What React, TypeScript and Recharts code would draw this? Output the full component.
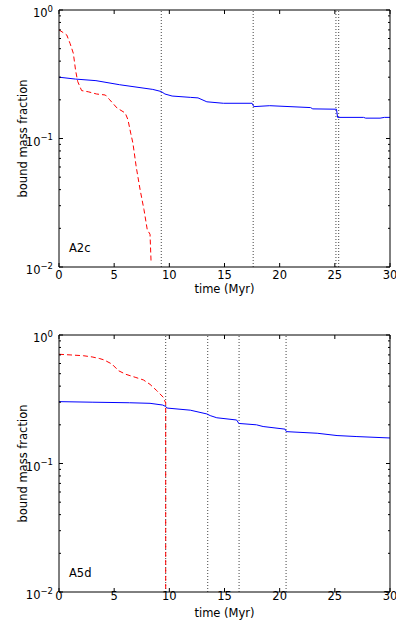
import { Line, LineChart, ReferenceLine, XAxis, YAxis } from 'recharts';

// panel A2c
const a2cBlueT = [0, 1.5, 3.35, 5.5, 8.5, 9.27, 9.6, 10.25, 11.9, 12.6, 13.4, 14.9, 17.5, 17.65, 19.1, 22.8, 23.0, 25.15, 25.25, 27.6, 27.8, 29.1, 29.5, 30];
const a2cBlueV = [0.3, 0.29, 0.282, 0.262, 0.241, 0.232, 0.222, 0.214, 0.209, 0.207, 0.193, 0.188, 0.188, 0.177, 0.18, 0.174, 0.17, 0.169, 0.146, 0.146, 0.144, 0.144, 0.146, 0.146];
const a2cRedT = [0, 0.7, 1.0, 1.3, 1.5, 1.7, 2.05, 2.65, 3.4, 4.2, 4.6, 5.25, 6.0, 6.25, 6.5, 6.7, 7.0, 7.35, 7.7, 8.0, 8.25, 8.35];
const a2cRedV = [0.7, 0.64, 0.55, 0.46, 0.34, 0.277, 0.236, 0.231, 0.222, 0.218, 0.2, 0.173, 0.158, 0.14, 0.11, 0.092, 0.06, 0.04, 0.028, 0.0195, 0.018, 0.0107];
const a2cEvents = [9.27, 17.6, 25.1, 25.35];

// panel A5d
const a5dBlueT = [0, 3, 6.4, 8.25, 9.4, 9.67, 9.8, 11.9, 13.4, 13.7, 14.3, 16.1, 16.3, 17.9, 18.5, 20.5, 20.6, 23.4, 25.2, 27, 30];
const a5dBlueV = [0.303, 0.3, 0.297, 0.294, 0.285, 0.278, 0.27, 0.26, 0.243, 0.236, 0.227, 0.218, 0.205, 0.2, 0.194, 0.185, 0.177, 0.172, 0.165, 0.162, 0.158];
const a5dRedT = [0, 1, 2.2, 3.0, 3.7, 4.08, 4.8, 5.4, 6.07, 6.9, 7.65, 8.25, 8.86, 9.46, 9.67, 9.67];
const a5dRedV = [0.708, 0.7, 0.69, 0.675, 0.655, 0.64, 0.594, 0.527, 0.494, 0.469, 0.447, 0.413, 0.369, 0.327, 0.295, 0.01];
const a5dEvents = [9.67, 13.48, 16.32, 20.58];

const xTicks = [0, 5, 10, 15, 20, 25, 30];
const yTicks = [0.01, 0.02, 0.03, 0.04, 0.05, 0.06, 0.07, 0.08, 0.09, 0.1, 0.2, 0.3, 0.4, 0.5, 0.6, 0.7, 0.8, 0.9, 1];

const FONT = '"DejaVu Sans", sans-serif';
const FS = 11.5;

const toRows = (t: number[], v: number[]) => t.map((x, i) => ({ t: x, v: v[i] }));

const isDecade = (v: number) => Math.abs(Math.log10(v) - Math.round(Math.log10(v))) < 1e-6;

const BottomTick = (props: any) => {
  const { x, y, payload, gap } = props;
  return (
    <g>
      <line x1={x} x2={x} y1={y} y2={y - 4} stroke="#000" />
      <text x={x} y={y + gap} textAnchor="middle" fontSize={FS} fontFamily={FONT} fill="#000">
        {payload.value}
      </text>
    </g>
  );
};

const TopTick = (props: any) => {
  const { x, y } = props;
  return <line x1={x} x2={x} y1={y} y2={y + 4} stroke="#000" />;
};

const LeftTick = (props: any) => {
  const { x, y, payload } = props;
  const major = isDecade(payload.value);
  const exp = Math.round(Math.log10(payload.value));
  return (
    <g>
      <line x1={x} x2={x + (major ? 4 : 2)} y1={y} y2={y} stroke="#000" />
      {major && (
        <text x={x - 6} y={y + 7} textAnchor="end" fontSize={FS} fontFamily={FONT} fill="#000">
          10
          <tspan dy={-5.5} fontSize={8.5}>
            {exp < 0 ? '\u2212' + Math.abs(exp) : String(exp)}
          </tspan>
        </text>
      )}
    </g>
  );
};

const RightTick = (props: any) => {
  const { x, y, payload } = props;
  const major = isDecade(payload.value);
  return <line x1={x} x2={x - (major ? 4 : 2)} y1={y} y2={y} stroke="#000" />;
};

type PanelProps = {
  name: string;
  blue: { t: number; v: number }[];
  red: { t: number; v: number }[];
  events: number[];
  top: number;
  padTop: number;
  padBottom: number;
  tickGap: number;
  titleGap: number;
};

const Panel = (p: PanelProps) => {
  const plotH = 257;
  return (
    <div style={{ position: 'absolute', left: 0, top: p.top, width: 396, height: 310 }}>
      <LineChart width={396} height={310} margin={{ top: 0, right: 0, bottom: 0, left: 0 }}>
        <XAxis
          dataKey="t"
          type="number"
          domain={[0, 30]}
          ticks={xTicks}
          interval={0}
          allowDataOverflow
          height={p.padBottom}
          tickSize={0}
          tickMargin={0}
          tickLine={false}
          axisLine={{ stroke: '#000' }}
          tick={(tp: any) => <BottomTick {...tp} gap={p.tickGap} />}
          label={{
            content: (lp: any) => {
              const vb = lp.viewBox;
              return (
                <text x={vb.x + vb.width / 2} y={vb.y + p.titleGap} textAnchor="middle" fontSize={FS} fontFamily={FONT} fill="#000">
                  time (Myr)
                </text>
              );
            },
          }}
        />
        <XAxis
          xAxisId="top"
          orientation="top"
          dataKey="t"
          type="number"
          domain={[0, 30]}
          ticks={xTicks}
          interval={0}
          allowDataOverflow
          height={p.padTop}
          tickSize={0}
          tickMargin={0}
          tickLine={false}
          axisLine={{ stroke: '#000' }}
          tick={TopTick}
        />
        <YAxis
          type="number"
          scale="log"
          domain={[0.01, 1]}
          ticks={yTicks}
          interval={0}
          allowDataOverflow
          width={59}
          tickSize={0}
          tickMargin={0}
          tickLine={false}
          axisLine={{ stroke: '#000' }}
          tick={LeftTick}
          label={{
            content: () => {
              const cy = p.padTop + plotH / 2;
              return (
                <text x={27} y={cy} transform={`rotate(-90, 27, ${cy})`} textAnchor="middle" fontSize={FS} fontFamily={FONT} fill="#000">
                  bound mass fraction
                </text>
              );
            },
          }}
        />
        <YAxis
          yAxisId="right"
          orientation="right"
          type="number"
          scale="log"
          domain={[0.01, 1]}
          ticks={yTicks}
          interval={0}
          allowDataOverflow
          width={6}
          tickSize={0}
          tickMargin={0}
          tickLine={false}
          axisLine={{ stroke: '#000' }}
          tick={RightTick}
        />
        {p.events.map((e) => (
          <ReferenceLine key={e} x={e} stroke="#444" strokeDasharray="1 2" />
        ))}
        <Line data={p.blue} dataKey="v" type="linear" stroke="#0000ff" strokeWidth={1} dot={false} isAnimationActive={false} />
        <Line data={p.red} dataKey="v" type="linear" stroke="#ff0000" strokeWidth={1} strokeDasharray="5 3" dot={false} isAnimationActive={false} />
        <text x={69} y={p.padTop + plotH - 15} fontSize={FS} fontFamily={FONT} fill="#000">
          {p.name}
        </text>
      </LineChart>
    </div>
  );
};

export default function App() {
  return (
    <div style={{ position: 'absolute', left: 0, top: 0, width: 396, height: 620, background: '#fff' }}>
      <Panel
        name="A2c"
        blue={toRows(a2cBlueT, a2cBlueV)}
        red={toRows(a2cRedT, a2cRedV)}
        events={a2cEvents}
        top={0}
        padTop={10}
        padBottom={43}
        tickGap={12}
        titleGap={26}
      />
      <Panel
        name="A5d"
        blue={toRows(a5dBlueT, a5dBlueV)}
        red={toRows(a5dRedT, a5dRedV)}
        events={a5dEvents}
        top={310}
        padTop={25}
        padBottom={28}
        tickGap={8}
        titleGap={25}
      />
    </div>
  );
}
